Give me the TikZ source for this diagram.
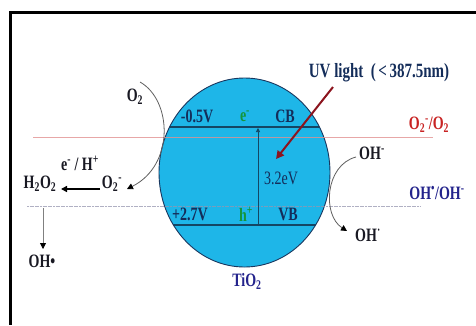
\documentclass[tikz,border=0pt]{standalone}
\usepackage{fontspec}
\setmainfont{Liberation Serif}
\usepackage{graphicx}
\usetikzlibrary{arrows.meta}
\newcommand{\vs}[1]{\scalebox{1}[1.35]{#1}}
\definecolor{cyanfill}{RGB}{30,182,232}
\definecolor{ringcol}{RGB}{25,55,95}
\definecolor{bandcol}{RGB}{20,70,100}
\definecolor{darklab}{RGB}{20,45,90}
\definecolor{greenlab}{RGB}{20,150,60}
\definecolor{redlab}{RGB}{200,35,35}
\definecolor{navylab}{RGB}{35,35,140}
\definecolor{blacklab}{RGB}{25,25,35}
\definecolor{pinkline}{RGB}{225,145,145}
\definecolor{grayline}{RGB}{150,150,175}
\definecolor{uvred}{RGB}{140,20,30}
\definecolor{curvecol}{RGB}{95,95,95}
\begin{document}
\begin{tikzpicture}[x=1pt,y=-1pt,
  lab/.style={font=\bfseries\fontsize{14}{16}\selectfont, text=blacklab, inner sep=0pt},
  inlab/.style={lab, text=darklab},
  curvearrow/.style={-{Triangle[length=6pt,width=6pt,color=black]}, draw=curvecol, line width=0.8pt}]
\useasboundingbox (0,0) rectangle (476,325);
\fill[white] (0,0) rectangle (476,325);
% frame
\fill[black] (9,11) rectangle (12,325);
\fill[black] (9,11) rectangle (476,14);
% particle
\coordinate (ctr) at (244.5,172.5);
\fill[cyanfill] (ctr) ellipse [x radius=85.5, y radius=94.5];
\begin{scope}
  \clip (ctr) ellipse [x radius=85.5, y radius=94.5];
  \draw[bandcol, line width=1.5pt] (150,127) -- (340,127);
  \draw[bandcol, line width=1.5pt] (150,225) -- (340,225);
\end{scope}
\draw[ringcol, line width=0.9pt] (ctr) ellipse [x radius=85.5, y radius=94.5];
% potential lines
\coordinate (pl1) at (33,137); \coordinate (pr1) at (433,137);
\coordinate (pl2) at (27,206); \coordinate (pr2) at (420,206);
\draw[pinkline, line width=0.9pt, opacity=0.8] (pl1) -- (pr1);
\draw[grayline, line width=0.9pt, opacity=0.75, dash pattern=on 2pt off 0.6pt] (pl2) -- (pr2);
% band gap arrow
\coordinate (gapb) at (258,225); \coordinate (gapt) at (258,128);
\draw[bandcol, line width=0.7pt, -{Triangle[length=4pt,width=4pt]}] (gapb) -- (gapt);
% labels inside
\node[inlab] (cbv) at (197,116) {\vs{-0.5V}};
\node[inlab, text=greenlab] (el) at (245,116) {\vs{e\textsuperscript{-}}};
\node[inlab] (cb) at (285,116) {\vs{CB}};
\node[inlab, font=\fontsize{14}{16}\selectfont] (gap) at (281,178) {\vs{3.2eV}};
\node[inlab] (vbv) at (190,214) {\vs{+2.7V}};
\node[inlab, text=greenlab] (ho) at (246,214) {\vs{h\textsuperscript{+}}};
\node[inlab] (vb) at (288,214) {\vs{VB}};
\node[lab, text=navylab] (tio) at (247,281) {\vs{TiO\textsubscript{2}}};
% UV light
\node[lab, text=darklab, font=\bfseries\fontsize{15}{17}\selectfont] (uv) at (379,73) {\vs{UV light~ (\,<\,387.5nm)}};
\coordinate (uvs) at (333,87); \coordinate (uve) at (276,159);
\draw[uvred, line width=2pt, -{Triangle[length=8pt,width=8pt]}] (uvs) -- (uve);
% right side
\node[lab, text=redlab] (o2red) at (429,125) {\vs{O\textsubscript{2}\textsuperscript{-}/O\textsubscript{2}}};
\node[lab] (ohm) at (372,153) {\vs{OH\textsuperscript{-}}};
\node[lab, text=navylab] (ohred) at (437,193) {\vs{OH\textsuperscript{•}/OH\textsuperscript{-}}};
\node[lab] (ohr) at (368,235) {\vs{OH\textsuperscript{·}}};
\coordinate (rcs) at (356,157); \coordinate (rce) at (347,231);
\draw[curvearrow] (rcs) .. controls (325,165) and (322,215) .. (rce);
% left side
\node[lab] (o2) at (135,97) {\vs{O\textsubscript{2}}};
\node[lab] (eh) at (80,163) {\vs{e\textsuperscript{-} / H\textsuperscript{+}}};
\node[lab] (h2o2) at (40,184) {\vs{H\textsubscript{2}O\textsubscript{2}}};
\node[lab] (o2m) at (112,184) {\vs{O\textsubscript{2}\textsuperscript{-}}};
\node[lab] (ohl) at (42,261) {\vs{OH•}};
\coordinate (lcs) at (140,82); \coordinate (lce) at (127,189);
\draw[curvearrow] (lcs) .. controls (172,100) and (175,165) .. (lce);
\coordinate (hs) at (100,189); \coordinate (he) at (61,189);
\draw[black, line width=1.6pt, -{Triangle[length=6pt,width=6pt]}] (hs) -- (he);
\coordinate (vs1) at (43,208); \coordinate (vs2) at (43,249);
\draw[curvearrow, draw=gray] (vs1) -- (vs2);
\end{tikzpicture}
\end{document}
